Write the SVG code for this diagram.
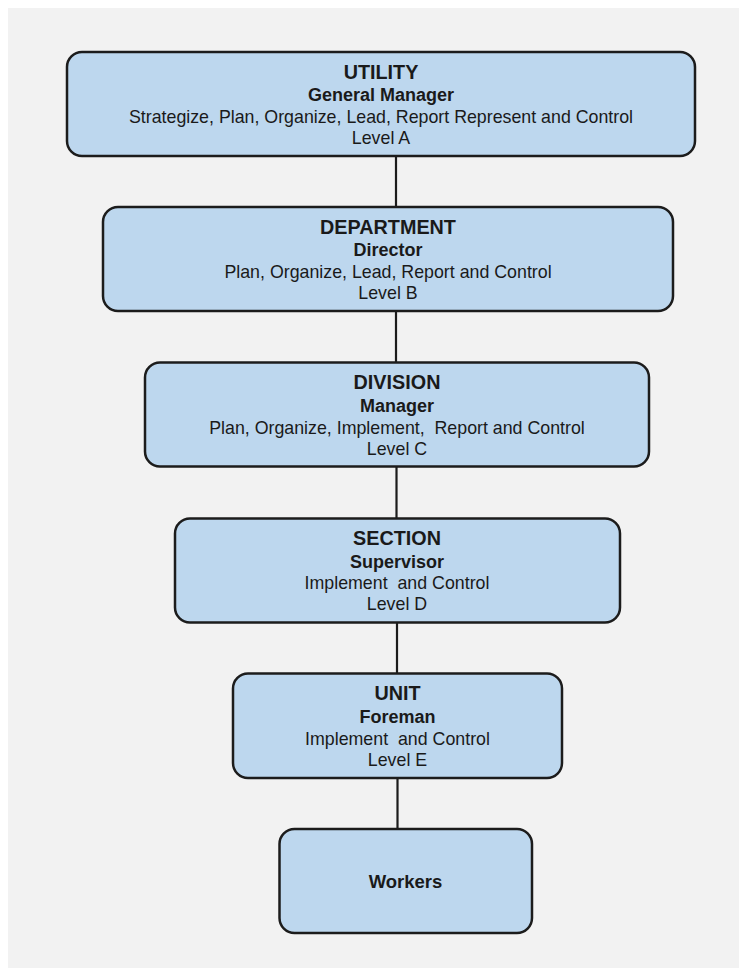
<svg xmlns="http://www.w3.org/2000/svg" width="739" height="968" viewBox="0 0 739 968">
  <style>
    .box { fill: #bdd7ee; stroke: #1c1c1c; stroke-width: 2.5; }
    .link { stroke: #1c1c1c; stroke-width: 2.2; fill: none; }
    text { font-family: "Liberation Sans", Arial, sans-serif; fill: #1a1a1a; text-anchor: middle; }
    .title { font-size: 19.8px; font-weight: bold; }
    .role { font-size: 18px; font-weight: bold; }
    .duty { font-size: 17.8px; }
  </style>

  <!-- page -->
  <rect x="0" y="0" width="739" height="968" fill="#ffffff"/>
  <rect x="8" y="8" width="731" height="960" fill="#f2f2f2"/>

  <!-- reporting lines -->
  <g id="connectors">
    <line class="link" x1="396" y1="156" x2="396" y2="207"/>
    <line class="link" x1="396" y1="311" x2="396" y2="362"/>
    <line class="link" x1="396.5" y1="466" x2="396.5" y2="518"/>
    <line class="link" x1="397" y1="622" x2="397" y2="673"/>
    <line class="link" x1="397.5" y1="778" x2="397.5" y2="829"/>
  </g>

  <g id="utility">
    <rect class="box" x="67" y="52" width="628" height="104" rx="15"/>
    <text class="title" x="381" y="79">UTILITY</text>
    <text class="role" x="381" y="101">General Manager</text>
    <text class="duty" x="381" y="123">Strategize, Plan, Organize, Lead, Report Represent and Control</text>
    <text class="duty" x="381" y="144">Level A</text>
  </g>

  <g id="department">
    <rect class="box" x="103" y="207" width="570" height="104" rx="15"/>
    <text class="title" x="388" y="233.5">DEPARTMENT</text>
    <text class="role" x="388" y="256">Director</text>
    <text class="duty" x="388" y="278">Plan, Organize, Lead, Report and Control</text>
    <text class="duty" x="388" y="299">Level B</text>
  </g>

  <g id="division">
    <rect class="box" x="145" y="362.5" width="504" height="104" rx="15"/>
    <text class="title" x="397" y="389">DIVISION</text>
    <text class="role" x="397" y="411.5">Manager</text>
    <text class="duty" x="397" y="433.5" xml:space="preserve">Plan, Organize, Implement,  Report and Control</text>
    <text class="duty" x="397" y="454.5">Level C</text>
  </g>

  <g id="section">
    <rect class="box" x="175" y="518.5" width="445" height="104" rx="15"/>
    <text class="title" x="397" y="545">SECTION</text>
    <text class="role" x="397" y="567.5">Supervisor</text>
    <text class="duty" x="397" y="589" xml:space="preserve">Implement  and Control</text>
    <text class="duty" x="397" y="610">Level D</text>
  </g>

  <g id="unit">
    <rect class="box" x="233" y="673.5" width="329" height="104.5" rx="15"/>
    <text class="title" x="397.5" y="700">UNIT</text>
    <text class="role" x="397.5" y="722.5">Foreman</text>
    <text class="duty" x="397.5" y="744.5" xml:space="preserve">Implement  and Control</text>
    <text class="duty" x="397.5" y="765.5">Level E</text>
  </g>

  <g id="workers">
    <rect class="box" x="279.5" y="829" width="252.5" height="104" rx="15"/>
    <text class="role" x="405.5" y="888" style="font-size:18.5px">Workers</text>
  </g>
</svg>
